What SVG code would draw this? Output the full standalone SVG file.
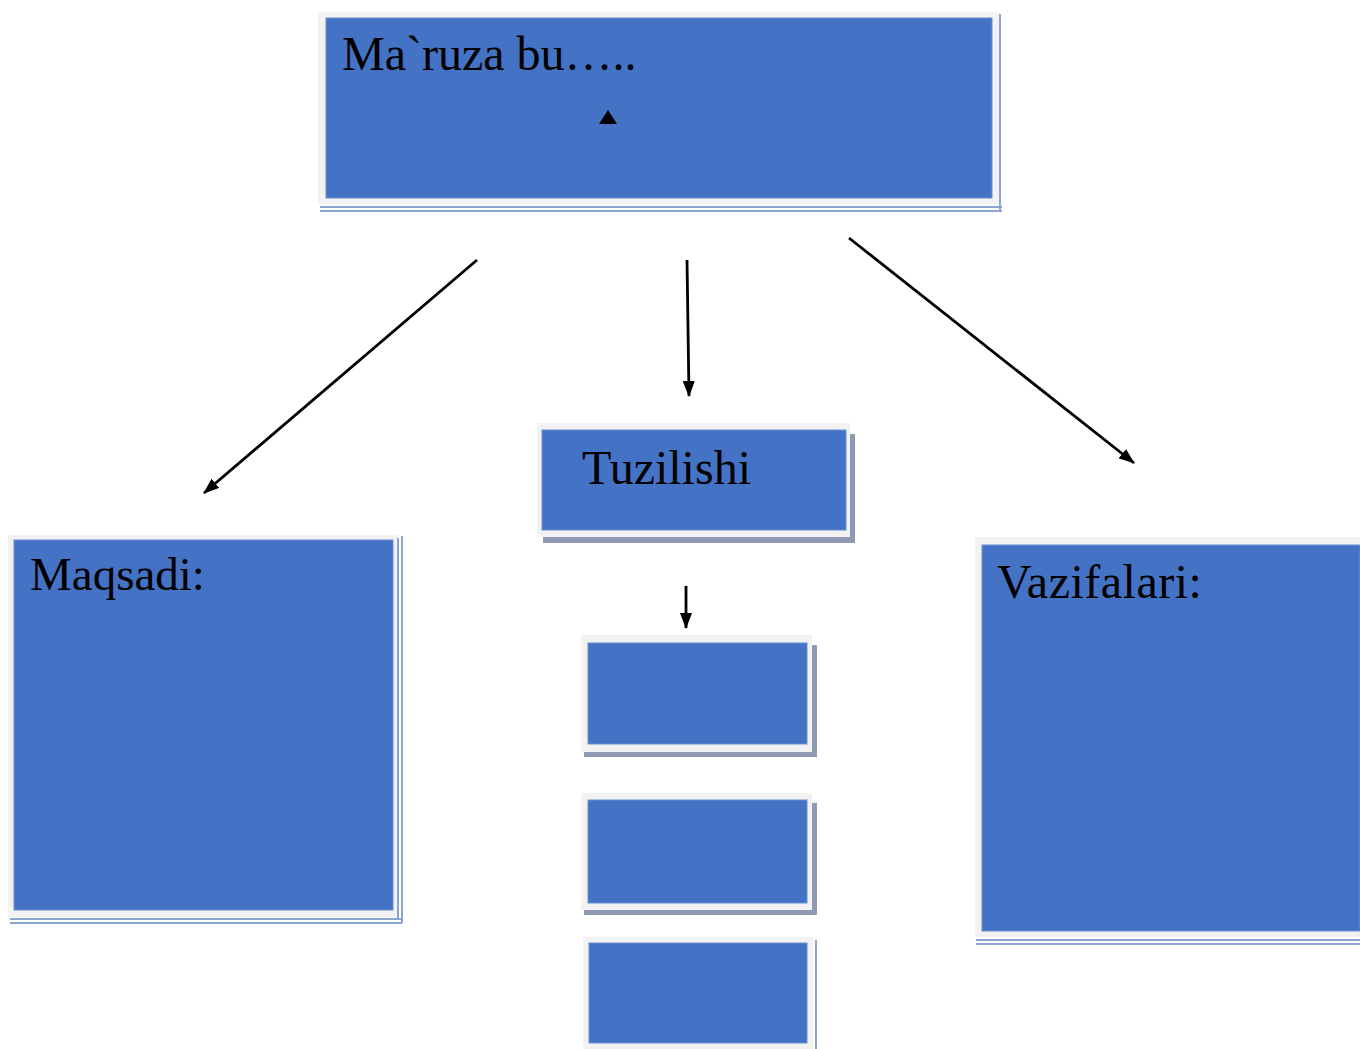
<svg xmlns="http://www.w3.org/2000/svg" width="1360" height="1049" viewBox="0 0 1360 1049">
<defs>
<style>
.frame{fill:#f2f2f2}
.blue{fill:#4472c4;stroke:#6b8fd0;stroke-width:1}
.shadow{fill:#8e9ab3}
.dbl{stroke:#8da3d0;stroke-width:2;fill:none}
.lbl{font-family:"Liberation Serif","Times New Roman",serif;fill:#000}
.conn{stroke:#000;stroke-width:2.8;fill:none}
</style>
<marker id="ah" viewBox="0 0 16 12" refX="15" refY="6" markerWidth="16" markerHeight="12" orient="auto" markerUnits="userSpaceOnUse">
<path d="M0,0 L16,6 L0,12 z" fill="#000"/>
</marker>
</defs>
<rect width="1360" height="1049" fill="#fff"/>

<g id="node-maruza">
<rect class="frame" x="318" y="12" width="682" height="192"/>
<rect class="blue" x="326" y="18" width="666" height="180"/>
<line class="dbl" x1="320" y1="207" x2="1002" y2="207"/>
<line class="dbl" x1="320" y1="211" x2="1002" y2="211"/>
<line class="dbl" x1="1000" y1="14" x2="1000" y2="211"/>
<text class="lbl" x="342" y="70" font-size="48">Ma`ruza bu…..</text>
<path d="M608,110 L617,124 L599,124 z" fill="#000"/>
</g>

<g id="node-tuzilishi">
<rect class="shadow" x="543" y="434" width="312" height="109"/>
<rect class="frame" x="537" y="423" width="313" height="114"/>
<rect class="blue" x="542" y="430" width="304" height="100"/>
<text class="lbl" x="582" y="484" font-size="48">Tuzilishi</text>
</g>

<g id="node-box1">
<rect class="shadow" x="584" y="645" width="233" height="112"/>
<rect class="frame" x="581" y="635" width="231" height="117"/>
<rect class="blue" x="588" y="643" width="219" height="101"/>
</g>

<g id="node-box2">
<rect class="shadow" x="584" y="803" width="233" height="112"/>
<rect class="frame" x="581" y="793" width="231" height="117"/>
<rect class="blue" x="588" y="800" width="219" height="103"/>
</g>

<g id="node-box3">
<rect class="frame" x="583" y="937" width="230" height="112"/>
<rect class="blue" x="589" y="943" width="218" height="100"/>
<line class="dbl" x1="816" y1="940" x2="816" y2="1049" stroke-width="3"/>
</g>

<g id="node-maqsadi">
<rect class="frame" x="8" y="535" width="390" height="382"/>
<rect class="blue" x="14" y="540" width="379" height="370"/>
<line class="dbl" x1="398" y1="538" x2="398" y2="919"/>
<line class="dbl" x1="402" y1="536" x2="402" y2="923"/>
<line class="dbl" x1="10" y1="919" x2="402" y2="919"/>
<line class="dbl" x1="10" y1="923" x2="402" y2="923"/>
<text class="lbl" x="30" y="590" font-size="47">Maqsadi:</text>
</g>

<g id="node-vazifalari">
<rect class="frame" x="975" y="537" width="385" height="400"/>
<rect class="blue" x="982" y="545" width="378" height="386"/>
<line class="dbl" x1="976" y1="940" x2="1360" y2="940"/>
<line class="dbl" x1="976" y1="944" x2="1360" y2="944"/>
<text class="lbl" x="997" y="598" font-size="48" letter-spacing="0.5">Vazifalari:</text>
</g>

<g id="connectors">
<line class="conn" x1="477" y1="260" x2="204" y2="493" marker-end="url(#ah)"/>
<line class="conn" x1="687" y1="260" x2="689" y2="396" marker-end="url(#ah)"/>
<line class="conn" x1="849" y1="238" x2="1134" y2="463" marker-end="url(#ah)"/>
<line class="conn" x1="686" y1="586" x2="686" y2="628" marker-end="url(#ah)"/>
</g>
</svg>
